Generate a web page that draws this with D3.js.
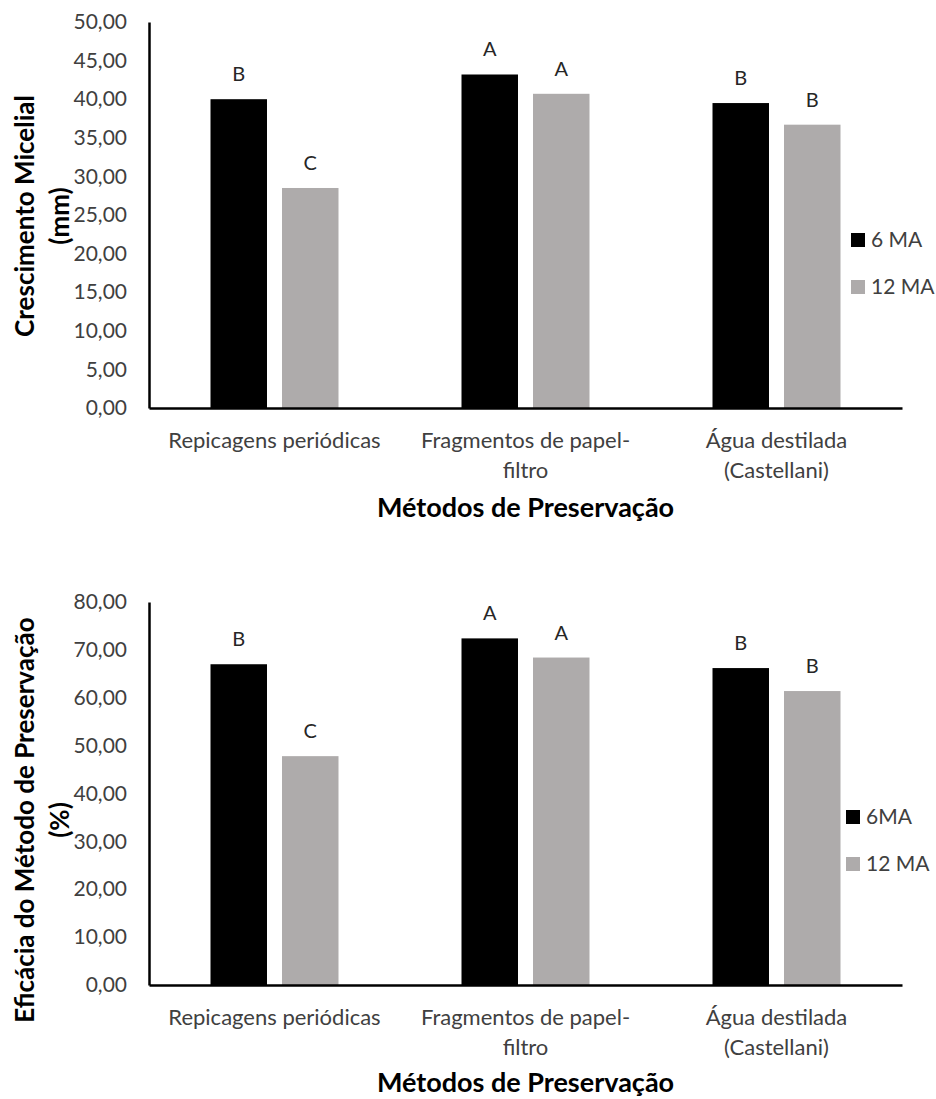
<!DOCTYPE html>
<html><head><meta charset="utf-8">
<script src="https://cdn.jsdelivr.net/npm/d3@7"></script>
<style>
body{margin:0;background:#fff;}
text{font-family:Lato, "Open Sans", sans-serif;}
</style></head>
<body><svg id="c" width="936" height="1099"></svg>
<script>
// ---- data ----
const categories = ["Repicagens periódicas", "Fragmentos de papel-filtro", "Água destilada (Castellani)"];
const categoryLines = [["Repicagens periódicas"], ["Fragmentos de papel-", "filtro"], ["Água destilada", "(Castellani)"]];
const seriesKeys = ["6 MA", "12 MA"];
const growth6 = [40.0, 43.2, 39.5];
const growth12 = [28.5, 40.7, 36.7];
const growthLetters6 = ["B", "A", "B"];
const growthLetters12 = ["C", "A", "B"];
const eff6 = [67.0, 72.4, 66.2];
const eff12 = [47.8, 68.4, 61.4];
const effLetters6 = ["B", "A", "B"];
const effLetters12 = ["C", "A", "B"];
const growthTicks = [0, 5, 10, 15, 20, 25, 30, 35, 40, 45, 50];
const effTicks = [0, 10, 20, 30, 40, 50, 60, 70, 80];
const legend1 = ["6 MA", "12 MA"];
const legend2 = ["6MA", "12 MA"];
const colors = ["#000000", "#AEABAB"];

const loc = d3.formatLocale({decimal: ",", thousands: ".", grouping: [3], currency: ["", ""]});
const fmt = loc.format(".2f");
const svg = d3.select("#c");

function drawChart(cfg) {
  const g = svg.append("g");
  const x = d3.scaleBand().domain(categories).range([149, 902]).paddingInner(0).paddingOuter(0);
  const xs = d3.scaleBand().domain(seriesKeys).range([0, x.bandwidth()]).paddingInner(0.21).paddingOuter(0.86);
  const y = d3.scaleLinear().domain([0, cfg.max]).range([cfg.bottom, cfg.top]);

  const data = [];
  categories.forEach((c, i) => {
    data.push({c, s: seriesKeys[0], v: cfg.v6[i], l: cfg.l6[i]});
    data.push({c, s: seriesKeys[1], v: cfg.v12[i], l: cfg.l12[i]});
  });

  g.selectAll("rect.bar").data(data).join("rect").attr("class", "bar")
    .attr("x", d => x(d.c) + xs(d.s)).attr("width", xs.bandwidth())
    .attr("y", d => y(d.v)).attr("height", d => y(0) - y(d.v))
    .attr("fill", d => colors[seriesKeys.indexOf(d.s)]);

  g.selectAll("text.lbl").data(data).join("text").attr("class", "lbl")
    .attr("x", d => x(d.c) + xs(d.s) + xs.bandwidth() / 2)
    .attr("y", d => y(d.v) - 25).attr("dy", "0.35em")
    .attr("text-anchor", "middle").attr("font-size", 20).attr("fill", "#262626")
    .text(d => d.l);

  const ya = d3.axisLeft(y).tickValues(cfg.ticks).tickFormat(fmt).tickSize(0).tickPadding(22);
  const yg = g.append("g").attr("transform", "translate(149,0)").call(ya);
  yg.select(".domain").attr("stroke", "#000").attr("stroke-width", 2.5);
  yg.selectAll("text").attr("font-size", 21).attr("fill", "#404040").attr("font-family", "Lato");

  // x axis line
  const xa = d3.axisBottom(x).tickSize(0).tickFormat("");
  const xg = g.append("g").attr("transform", `translate(0,${cfg.bottom})`).call(xa);
  xg.select(".domain").attr("stroke", "#000").attr("stroke-width", 2.5);

  // category labels
  g.selectAll("text.cat").data(categories).join("text").attr("class", "cat")
    .attr("x", d => x(d) + x.bandwidth() / 2)
    .attr("y", cfg.bottom + 32)
    .attr("text-anchor", "middle").attr("font-size", 22).attr("fill", "#404040")
    .each(function(d, i) {
      const t = d3.select(this);
      categoryLines[i].forEach((ln, k) => {
        t.append("tspan").attr("x", x(d) + x.bandwidth() / 2).attr("dy", k === 0 ? "0.35em" : 30).text(ln);
      });
    });

  // x title
  g.append("text").attr("x", 525.5).attr("y", cfg.xTitleY).attr("dy", "0.35em")
    .attr("text-anchor", "middle").attr("font-size", 27).attr("font-weight", "bold").attr("fill", "#000")
    .text("Métodos de Preservação");

  // y title
  const cy = cfg.yTitleY;
  g.append("text").attr("transform", `translate(25,${cy}) rotate(-90)`).attr("dy", "0.35em")
    .attr("text-anchor", "middle").attr("font-size", 26).attr("font-weight", "bold").attr("fill", "#000")
    .text(cfg.yTitle1);
  g.append("text").attr("transform", `translate(60,${cy}) rotate(-90)`).attr("dy", "0.35em")
    .attr("text-anchor", "middle").attr("font-size", 26).attr("font-weight", "bold").attr("fill", "#000")
    .text(cfg.yTitle2);

  // legend
  cfg.legend.forEach((name, i) => {
    const ly = cfg.legendY + i * 47;
    g.append("rect").attr("x", cfg.legendX).attr("y", ly - 7).attr("width", 14).attr("height", 14).attr("fill", colors[i]);
    g.append("text").attr("x", cfg.legendX + 20).attr("y", ly).attr("dy", "0.35em")
      .attr("font-size", 21).attr("fill", "#404040").text(name);
  });
}

drawChart({top: 22, bottom: 408, max: 50, ticks: growthTicks, v6: growth6, v12: growth12,
  l6: growthLetters6, l12: growthLetters12, xTitleY: 508, yTitleY: 216,
  yTitle1: "Crescimento Micelial", yTitle2: "(mm)", legend: legend1, legendX: 851, legendY: 240});
drawChart({top: 602, bottom: 985, max: 80, ticks: effTicks, v6: eff6, v12: eff12,
  l6: effLetters6, l12: effLetters12, xTitleY: 1083, yTitleY: 820,
  yTitle1: "Eficácia do Método de Preservação", yTitle2: "(%)", legend: legend2, legendX: 846, legendY: 817});
</script></body></html>
